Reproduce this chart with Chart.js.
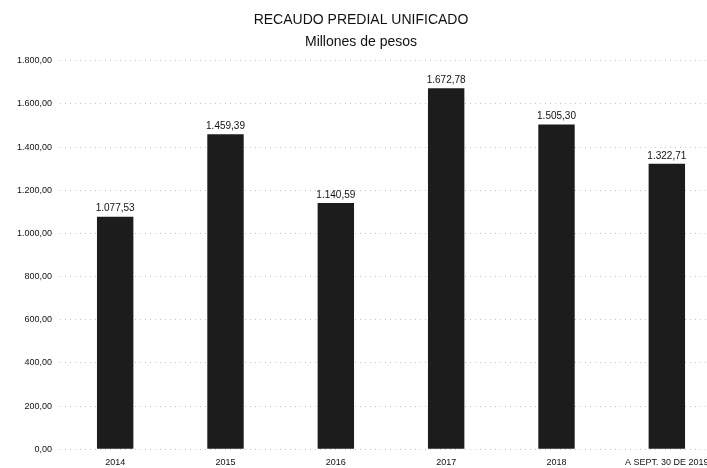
<!DOCTYPE html>
<html>
<head>
<meta charset="utf-8">
<script src="https://cdn.jsdelivr.net/npm/chart.js@4.4.1/dist/chart.umd.min.js"></script>
<style>
  html, body { margin: 0; padding: 0; background: #fff; overflow: hidden; }
  #wrap { position: absolute; left: 0; top: 0; width: 722px; height: 476px; }
</style>
</head>
<body>
<div id="wrap"><canvas id="recaudoChart"></canvas></div>
<script>
// Recaudo predial unificado (millones de pesos)
const categories = ['2014', '2015', '2016', '2017', '2018', 'A SEPT. 30 DE 2019'];
const recaudo = [1077.53, 1459.39, 1140.59, 1672.78, 1505.30, 1322.71];
const yTicks = [0, 200, 400, 600, 800, 1000, 1200, 1400, 1600, 1800];

// "1.800,00" style
function formatEs(v) {
    const parts = v.toFixed(2).split('.');
    const ent = parts[0].replace(/\B(?=(\d{3})+(?!\d))/g, '.');
    return ent + ',' + parts[1];
}

const barLabels = {
    id: 'barLabels',
    afterDatasetsDraw(chart) {
        const ctx = chart.ctx;
        const meta = chart.getDatasetMeta(0);
        ctx.save();
        ctx.font = '10px "Liberation Sans", Arial, sans-serif';
        ctx.fillStyle = '#111';
        ctx.textAlign = 'center';
        ctx.textBaseline = 'bottom';
        meta.data.forEach((bar, i) => {
            ctx.fillText(formatEs(recaudo[i]), bar.x, bar.y - 3);
        });
        ctx.restore();
    }
};

new Chart(document.getElementById('recaudoChart'), {
    type: 'bar',
    data: {
        labels: categories,
        datasets: [{
            data: recaudo,
            backgroundColor: '#1c1c1c',
            borderWidth: 0,
            categoryPercentage: 1.0,
            barPercentage: 0.33
        }]
    },
    options: {
        responsive: true,
        maintainAspectRatio: false,
        animation: false,
        layout: { padding: { top: 9, right: 0, bottom: 0, left: 0 } },
        plugins: {
            legend: { display: false },
            tooltip: { enabled: false },
            title: {
                display: true,
                text: ['RECAUDO PREDIAL UNIFICADO', 'Millones de pesos'],
                color: '#111',
                font: { family: '"Liberation Sans", Arial, sans-serif', size: 14, weight: 'normal', lineHeight: 1.6 },
                padding: { top: 0, bottom: 7 }
            }
        },
        scales: {
            x: {
                grid: { display: false, drawTicks: false },
                border: { display: false },
                ticks: {
                    color: '#111',
                    font: { family: '"Liberation Sans", Arial, sans-serif', size: 9 },
                    padding: 8,
                    maxRotation: 0
                }
            },
            y: {
                min: 0,
                max: 1800,
                afterBuildTicks: (scale) => { scale.ticks = yTicks.map(v => ({ value: v })); },
                afterFit: (scale) => { scale.width = 60; },
                grid: {
                    color: '#c4c4c4',
                    lineWidth: 1,
                    drawTicks: false
                },
                border: { display: false, dash: [1, 4] },
                ticks: {
                    color: '#111',
                    font: { family: '"Liberation Sans", Arial, sans-serif', size: 9 },
                    padding: 8,
                    callback: (v) => formatEs(v)
                }
            }
        }
    },
    plugins: [barLabels]
});
</script>
</body>
</html>
